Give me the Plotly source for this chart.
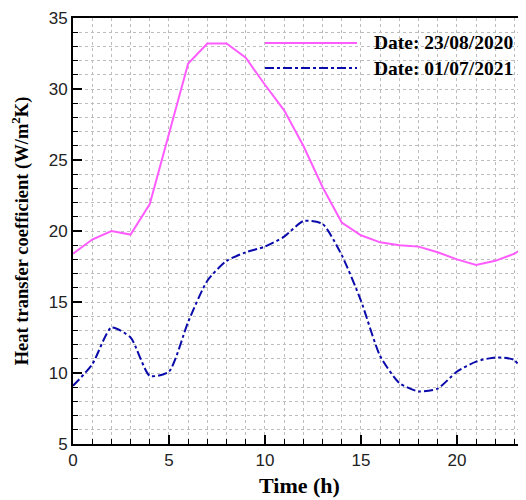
import plotly.graph_objects as go

hours = list(range(0, 25))
h_2020 = [18.4, 19.4, 20.0, 19.75, 21.9, 26.9, 31.8, 33.2, 33.2, 32.2, 30.3, 28.5,
          26.0, 23.1, 20.6, 19.7, 19.2, 19.0, 18.9, 18.5, 18.0, 17.6, 17.9, 18.4, 19.3]
h_2021 = [9.1, 10.6, 13.2, 12.5, 9.8, 10.1, 13.6, 16.5, 17.9, 18.5, 18.9, 19.6,
          20.7, 20.5, 18.3, 15.1, 11.2, 9.3, 8.7, 8.9, 10.1, 10.8, 11.1, 10.9, 8.6]
labels = ["Date: 23/08/2020", "Date: 01/07/2021"]
colors = ["#FF5CFF", "#0A0AAA"]

W, H = 518, 492
L, R, T, B = 65, 0, 10, 56

fig = go.Figure()
fig.add_trace(go.Scatter(x=hours, y=h_2020, mode="lines", name=labels[0],
                         line=dict(color=colors[0], width=2)))
fig.add_trace(go.Scatter(x=hours, y=h_2021, mode="lines", name=labels[1],
                         line=dict(color=colors[1], width=2, dash="dashdot",
                                   shape="spline", smoothing=0.6)))

grid = dict(showgrid=True, gridcolor="#BDBDBD", gridwidth=1, griddash="dot")
tickfont = dict(family="Liberation Sans, Arial", size=17, color="#222")
fig.update_xaxes(range=[0, 23.6], dtick=5, tick0=0, ticks="inside", ticklen=9,
                 tickwidth=2, tickcolor="black", showline=True, linewidth=2,
                 linecolor="black", mirror=True, zeroline=False, automargin=False,
                 tickfont=tickfont, ticklabeloverflow="allow",
                 minor=dict(dtick=1, ticks="inside", ticklen=5, tickwidth=1,
                            tickcolor="black", showgrid=True, gridcolor="#BDBDBD",
                            griddash="dot", gridwidth=1),
                 title=dict(text="<b>Time (h)</b>",
                            font=dict(family="Liberation Serif, Times New Roman",
                                      size=22, color="black"), standoff=8),
                 **grid)
fig.update_yaxes(range=[5, 35], dtick=5, tick0=5, ticks="inside", ticklen=9,
                 tickwidth=2, tickcolor="black", showline=True, linewidth=2,
                 linecolor="black", zeroline=False, automargin=False, tickfont=tickfont,
                 ticklabeloverflow="allow",
                 minor=dict(dtick=1, ticks="inside", ticklen=5, tickwidth=1,
                            tickcolor="black", showgrid=True, gridcolor="#BDBDBD",
                            griddash="dot", gridwidth=1),
                 title=dict(text="<b>Heat transfer coefficient (W/m<sup>2</sup>K)</b>",
                            font=dict(family="Liberation Serif, Times New Roman",
                                      size=18.5, color="black"), standoff=19),
                 **grid)

# manual legend (pixel positions relative to the figure)
pw, ph = W - L - R, H - T - B
leg_rows = [35, 60]
for i, (lab, col) in enumerate(zip(labels, colors)):
    yy = 1 - (leg_rows[i] - T) / ph
    fig.add_shape(type="line", xref="paper", yref="paper",
                  x0=(257 - L) / pw, x1=(349 - L) / pw, y0=yy, y1=yy,
                  line=dict(color=col, width=2, dash="solid" if i == 0 else "dashdot"))
    fig.add_annotation(xref="paper", yref="paper", x=(364 - L) / pw, y=yy,
                       xanchor="left", yanchor="middle", showarrow=False,
                       text=f"<b>{lab}</b>",
                       font=dict(family="Liberation Serif, Times New Roman", size=19.5,
                                 color="black"))

fig.update_layout(width=W, height=H, showlegend=False,
                  margin=dict(l=L, r=R, t=T, b=B),
                  plot_bgcolor="white", paper_bgcolor="white")
fig.write_html("out.html")
